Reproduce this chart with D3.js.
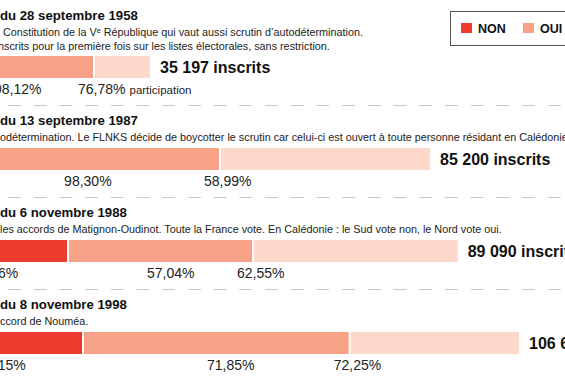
<!DOCTYPE html>
<html><head><meta charset="utf-8">
<script src="https://cdn.jsdelivr.net/npm/d3@7"></script>
<style>
html,body{margin:0;padding:0;background:#fff;overflow:hidden}
svg{display:block;font-family:"Liberation Sans",Arial,sans-serif}
</style></head>
<body>
<script>
// ---- data ----
const titles = ["du 28 septembre 1958","du 13 septembre 1987","du 6 novembre 1988","du 8 novembre 1998"];
const descriptions = [
  ["Constitution de la Vᵉ République qui vaut aussi scrutin d’autodétermination.",
   "nscrits pour la première fois sur les listes électorales, sans restriction."],
  ["odétermination. Le FLNKS décide de boycotter le scrutin car celui-ci est ouvert à toute personne résidant en Calédonie depuis"],
  ["les accords de Matignon-Oudinot. Toute la France vote. En Calédonie : le Sud vote non, le Nord vote oui."],
  ["ccord de Nouméa."]
];
// bar segments as drawn (voters)
const nonVotes    = [550, 850, 24833, 27333];
const ouiVotes    = [28617, 49317, 30834, 44450];
const abstentions = [9166, 34833, 33950, 28050];
// labels
const nonLabels   = ["", "", "42,96%", "28,15%"];
const ouiLabels   = ["98,12%", "98,30%", "57,04%", "71,85%"];
const partLabels  = ["76,78%", "58,99%", "62,55%", "72,25%"];
const partSuffix  = ["participation", "", "", ""];
const inscritsLabels = ["35 197 inscrits", "85 200 inscrits", "89 090 inscrits", "106 698 inscrits"];
const legendKeys  = ["NON", "OUI"];

// ---- drawing ----
const W = 565, H = 377;
const colors = {NON: "#ee3b2e", OUI: "#f7a287", ABS: "#fdd8cb"};
const svg = d3.select("body").append("svg").attr("width", W).attr("height", H);

const x = d3.scaleLinear().domain([0, 110000]).range([-80, 580]);

const rows = titles.map((t, i) => ({
  title: t, desc: descriptions[i],
  non: nonVotes[i], oui: ouiVotes[i], abs: abstentions[i],
  nonL: nonLabels[i], ouiL: ouiLabels[i], partL: partLabels[i], partS: partSuffix[i],
  insL: inscritsLabels[i]
}));

// vertical layout
let ty = 20;
rows.forEach(r => {
  r.ty = ty;
  r.barY = ty + 23 + 13 * (r.desc.length - 1);
  r.dashY = r.barY + 49.5;
  ty = r.dashY + 19.5;
});
const barH = 22, gap = 2;

const g = svg.selectAll("g.row").data(rows).join("g").attr("class", "row");

g.append("text").attr("x", 0).attr("y", d => d.ty)
  .attr("font-size", 13.2).attr("font-weight", "bold").attr("fill", "#111")
  .text(d => d.title);

g.each(function(d) {
  const gg = d3.select(this);
  d.desc.forEach((line, j) => {
    gg.append("text").attr("x", j === 1 ? -2 : (d.ty < 30 ? 3 : 0))
      .attr("y", d.ty + 15.5 + 14 * j)
      .attr("font-size", 10.8).attr("fill", "#222").text(line);
  });
});

// segments
g.each(function(d) {
  const gg = d3.select(this);
  const segs = [
    {k: "NON", a: 0, b: d.non},
    {k: "OUI", a: d.non, b: d.non + d.oui},
    {k: "ABS", a: d.non + d.oui, b: d.non + d.oui + d.abs}
  ];
  gg.selectAll("rect.seg").data(segs).join("rect").attr("class", "seg")
    .attr("x", s => x(s.a))
    .attr("width", (s, i) => Math.max(0, x(s.b) - x(s.a) - (i < 2 ? gap : 0)))
    .attr("y", d.barY).attr("height", barH)
    .attr("fill", s => colors[s.k]);

  const ly = d.barY + 38;
  gg.append("text").attr("x", (x(0) + x(d.non)) / 2).attr("y", ly)
    .attr("text-anchor", "middle").attr("font-size", 14).attr("fill", "#222").text(d.nonL);
  gg.append("text").attr("x", x(d.non) + 0.55 * (x(d.non + d.oui) - x(d.non))).attr("y", ly)
    .attr("text-anchor", "middle").attr("font-size", 14).attr("fill", "#222").text(d.ouiL);
  const pt = gg.append("text").attr("x", x(d.non + d.oui) - 17).attr("y", ly)
    .attr("font-size", 14).attr("fill", "#222").text(d.partL);
  if (d.partS) pt.append("tspan").attr("dx", 4).attr("font-size", 11.5).text(d.partS);
  gg.append("text").attr("x", x(d.non + d.oui + d.abs) + 10).attr("y", d.barY + barH / 2 + 6)
    .attr("font-size", 16).attr("font-weight", "bold").attr("fill", "#111").text(d.insL);
  if (d !== rows[rows.length - 1]) {
    gg.append("line").attr("x1", 8).attr("x2", W).attr("y1", d.dashY).attr("y2", d.dashY)
      .attr("stroke", "#c8c8c8").attr("stroke-width", 1.2).attr("stroke-dasharray", "13,12.7");
  }
});

// legend
const lg = svg.append("g");
lg.append("rect").attr("x", 450.5).attr("y", 11.5).attr("width", 130).attr("height", 34)
  .attr("fill", "#fff").attr("stroke", "#555").attr("stroke-width", 1);
const items = lg.selectAll("g.it").data(legendKeys).join("g").attr("class", "it")
  .attr("transform", (k, i) => `translate(${461 + i * 62},23)`);
items.append("rect").attr("width", 11).attr("height", 10).attr("fill", k => colors[k]);
items.append("text").attr("x", 17).attr("y", 10).attr("font-size", 12.5)
  .attr("font-weight", "bold").attr("fill", "#111").text(k => k);
</script>
</body></html>
